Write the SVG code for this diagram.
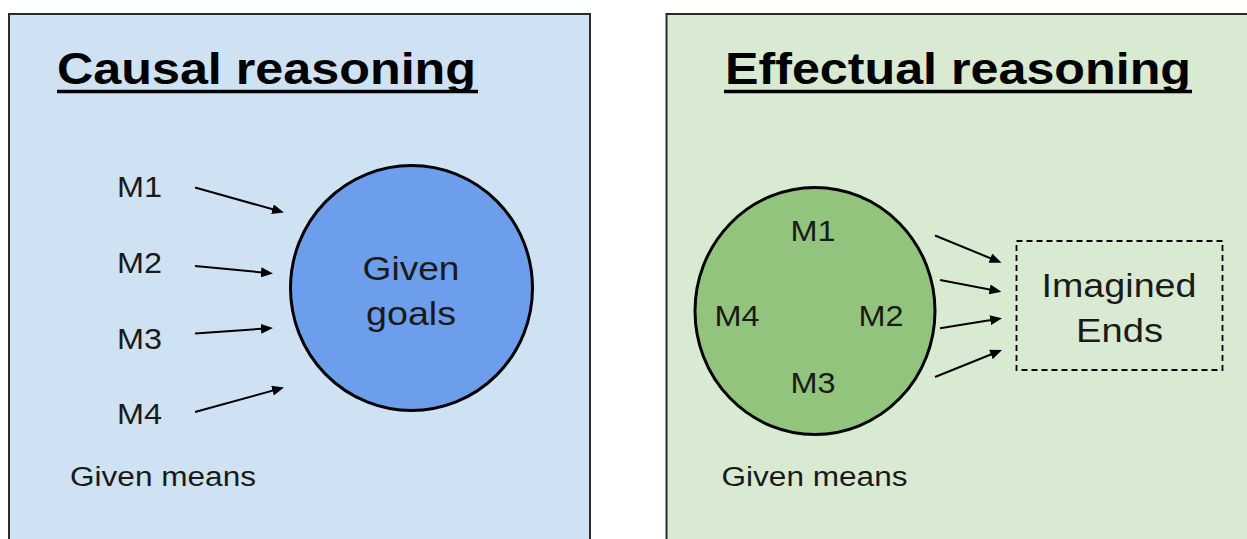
<svg xmlns="http://www.w3.org/2000/svg" width="1247" height="539" viewBox="0 0 1247 539">
  <style>
    text { font-family: "Liberation Sans", Arial, sans-serif; fill: #1a1a1a; }
    .title { font-size: 44px; font-weight: bold; fill: #000; }
    .m { font-size: 29px; }
    .big { font-size: 33px; }
    .small { font-size: 27px; }
    .panel { stroke: #2a2a2a; stroke-width: 2; }
    .circ { stroke: #000; stroke-width: 3; }
    .arrow { stroke: #000; stroke-width: 2; fill: none; marker-end: url(#ah); }
    .ul { stroke: #000; stroke-width: 3.5; }
  </style>
  <defs>
    <marker id="ah" viewBox="0 0 12 10" refX="4" refY="5" markerWidth="12" markerHeight="10" markerUnits="userSpaceOnUse" orient="auto">
      <path d="M0,0 L12,5 L0,10 z" fill="#000"/>
    </marker>
  </defs>
  <rect width="1247" height="539" fill="#ffffff"/>

  <g id="panel-causal">
    <rect class="panel" x="9" y="14" width="581" height="560" fill="#cfe2f3"/>
    <text class="title" x="57" y="84" textLength="419" lengthAdjust="spacingAndGlyphs">Causal reasoning</text>
    <line class="ul" x1="57" y1="91.5" x2="478" y2="91.5"/>
  </g>
  <g id="panel-effectual">
    <rect class="panel" x="666.5" y="14" width="600" height="560" fill="#d9ead3"/>
    <text class="title" x="725" y="84" textLength="466" lengthAdjust="spacingAndGlyphs">Effectual reasoning</text>
    <line class="ul" x1="724" y1="91.5" x2="1192" y2="91.5"/>
  </g>

  <g id="node-given-goals">
    <ellipse class="circ" cx="411.5" cy="288" rx="121" ry="122.5" fill="#6d9eeb"/>
    <text class="big" x="411" y="280" text-anchor="middle" textLength="97" lengthAdjust="spacingAndGlyphs">Given</text>
    <text class="big" x="411" y="325" text-anchor="middle" textLength="90" lengthAdjust="spacingAndGlyphs">goals</text>
  </g>

  <g id="node-causal-means">
    <text class="m" x="117" y="197" textLength="45" lengthAdjust="spacingAndGlyphs">M1</text>
    <text class="m" x="117" y="273" textLength="45" lengthAdjust="spacingAndGlyphs">M2</text>
    <text class="m" x="117" y="349" textLength="45" lengthAdjust="spacingAndGlyphs">M3</text>
    <text class="m" x="117" y="424" textLength="45" lengthAdjust="spacingAndGlyphs">M4</text>
    <text class="small" x="70" y="485.5" textLength="186" lengthAdjust="spacingAndGlyphs">Given means</text>
  </g>

  <g id="node-effectual-means">
    <ellipse class="circ" cx="815" cy="311" rx="120" ry="123.5" fill="#93c47d"/>
    <text class="m" x="790.5" y="241" textLength="45" lengthAdjust="spacingAndGlyphs">M1</text>
    <text class="m" x="714.5" y="325.5" textLength="45" lengthAdjust="spacingAndGlyphs">M4</text>
    <text class="m" x="858.5" y="325.5" textLength="45" lengthAdjust="spacingAndGlyphs">M2</text>
    <text class="m" x="790.5" y="392.5" textLength="45" lengthAdjust="spacingAndGlyphs">M3</text>
    <text class="small" x="721.5" y="486" textLength="186" lengthAdjust="spacingAndGlyphs">Given means</text>
  </g>

  <g id="node-imagined-ends">
    <rect x="1016.5" y="241" width="206" height="129" fill="none" stroke="#000" stroke-width="1.8" stroke-dasharray="6 4"/>
    <text class="big" x="1119" y="297" text-anchor="middle" textLength="155" lengthAdjust="spacingAndGlyphs">Imagined</text>
    <text class="big" x="1119.5" y="342" text-anchor="middle" textLength="87" lengthAdjust="spacingAndGlyphs">Ends</text>
  </g>

  <g id="connectors">
    <line class="arrow" x1="195" y1="187.5" x2="276.3" y2="210.3"/>
    <line class="arrow" x1="195" y1="266" x2="265" y2="272.7"/>
    <line class="arrow" x1="195" y1="333.5" x2="265" y2="328.6"/>
    <line class="arrow" x1="195" y1="412" x2="276.3" y2="389.6"/>
    <line class="arrow" x1="935" y1="235.5" x2="994.1" y2="259.7"/>
    <line class="arrow" x1="940" y1="280" x2="993.6" y2="290.2"/>
    <line class="arrow" x1="940" y1="328.3" x2="994.1" y2="319.6"/>
    <line class="arrow" x1="935" y1="377" x2="994.6" y2="353"/>
  </g>
</svg>
